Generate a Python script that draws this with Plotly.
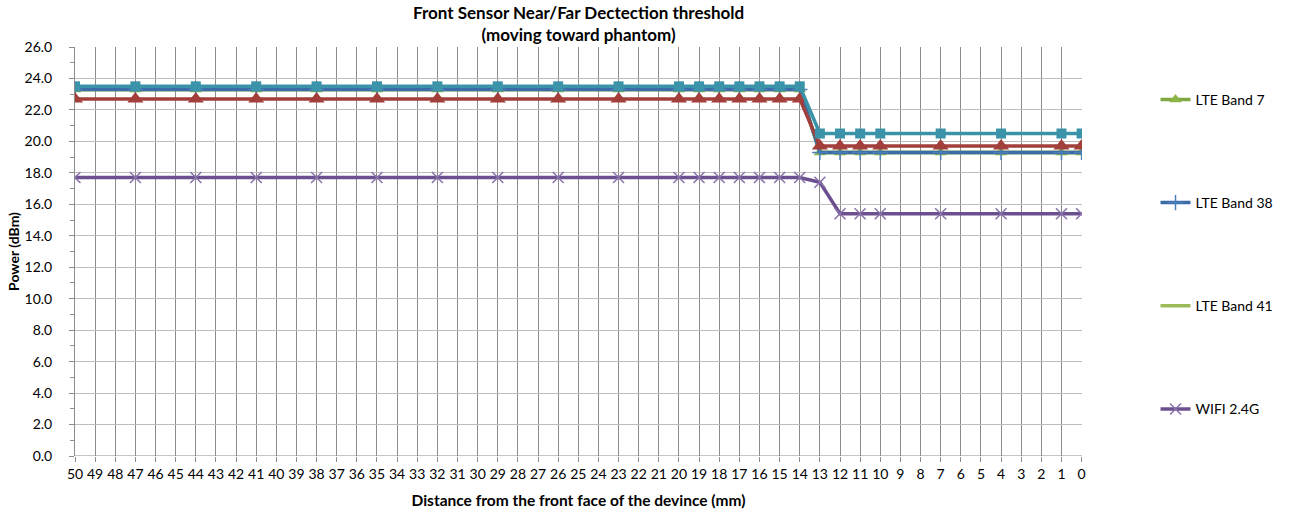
import plotly.graph_objects as go

# distance from the front face (mm), measured points
distance = [50, 47, 44, 41, 38, 35, 32, 29, 26, 23, 20, 19, 18, 17, 16, 15, 14,
            13, 12, 11, 10, 7, 4, 1, 0]

lte_band7 = [23.3] * 17 + [19.3] * 8
lte_band38 = [23.3] * 17 + [19.3] * 8
lte_band41 = [23.3] * 17 + [19.3] * 8
wifi_24g = [17.7] * 17 + [17.4] + [15.4] * 7
# two more series on the chart whose legend entries are cut off
series_red = [22.7] * 17 + [19.7] * 8
series_teal = [23.5] * 17 + [20.5] * 8

y_ticks = [i * 2 for i in range(14)]
x_ticks = list(range(0, 51))

FONT = "Lato, Carlito, Calibri, sans-serif"

fig = go.Figure()


def add_series(name, y, color, symbol=None, size=9, show=True, rank=1000,
               mcolor=None, lw=3.5):
    mode = "lines+markers" if symbol else "lines"
    marker = dict(symbol=symbol or "circle", size=size, color=mcolor or color)
    if symbol and "thin" in symbol:
        marker["line"] = dict(color=mcolor or color, width=1.5)
    fig.add_trace(go.Scatter(
        name=name,
        x=distance,
        y=y,
        mode=mode,
        line=dict(color=color, width=lw),
        marker=marker,
        showlegend=show,
        legendgroup=name,
        legendrank=rank,
    ))


# drawing order: bottom first
add_series("LTE Band 41", lte_band41, "#9bbb59", None, rank=3)
add_series("LTE Band 7", lte_band7, "#7fa843", "triangle-up", 11,
           mcolor="#8db545", rank=1)
add_series("LTE Band 38", lte_band38, "#3c6ca6", "cross-thin", 11,
           mcolor="#4a7ebb", rank=2)
add_series("WIFI 2.4G", wifi_24g, "#6b4f8e", "x-thin", 11,
           mcolor="#8a72ab", rank=4)
add_series("Series 5", series_red, "#a33f3b", "triangle-up", 14, show=False)
add_series("Series 6", series_teal, "#3a93a8", "square", 10, show=False)

fig.update_layout(
    width=1290,
    height=514,
    margin=dict(l=75, r=208, t=47, b=58),
    paper_bgcolor="white",
    plot_bgcolor="white",
    font=dict(family=FONT, size=14, color="#000000"),
    xaxis=dict(
        range=[50.0, -0.02],
        tickmode="array",
        tickvals=x_ticks,
        ticktext=[str(v) for v in x_ticks],
        showgrid=True,
        gridcolor="#8c8c8c",
        gridwidth=1,
        zeroline=False,
        showline=False,
        ticks="outside",
        ticklen=5,
        tickcolor="#8c8c8c",
        tickfont=dict(size=14),
        automargin=False,
        title=dict(text="<b>Distance from the front face of the devince (mm)</b>",
                   font=dict(size=15.5), standoff=14),
    ),
    yaxis=dict(
        range=[0, 26],
        tickmode="array",
        tickvals=y_ticks,
        tickformat=".1f",
        showgrid=True,
        gridcolor="#bdbdbd",
        gridwidth=1,
        zeroline=False,
        showline=True,
        linecolor="#8c8c8c",
        ticks="outside",
        ticklen=5,
        tickcolor="#8c8c8c",
        ticklabelstandoff=14,
        automargin=False,
        minor=dict(dtick=1, ticks="outside", ticklen=4, tickcolor="#8c8c8c",
                   showgrid=False),
        tickfont=dict(size=14),
        title=dict(text="<b>Power (dBm)</b>", font=dict(size=14), standoff=1),
    ),
    legend=dict(
        x=1.073,
        xanchor="left",
        y=0.91,
        yanchor="top",
        font=dict(size=14),
        tracegroupgap=82,
        itemwidth=30,
        bgcolor="rgba(0,0,0,0)",
    ),
)

fig.add_annotation(
    text="<b>Front Sensor Near/Far Dectection threshold<br>(moving toward phantom)</b>",
    xref="paper", yref="paper", x=0.5, y=1, xanchor="center", yanchor="bottom",
    yshift=0, showarrow=False, font=dict(family=FONT, size=17),
)

fig.add_shape(type="line", xref="paper", yref="y", x0=0, x1=1, y0=0, y1=0,
              line=dict(color="#8c8c8c", width=1))

# drop the default page margin so the figure sits at the window's corner
fig.write_html("out.html", config={"displayModeBar": False},
               post_script="document.body.style.margin='0';")
